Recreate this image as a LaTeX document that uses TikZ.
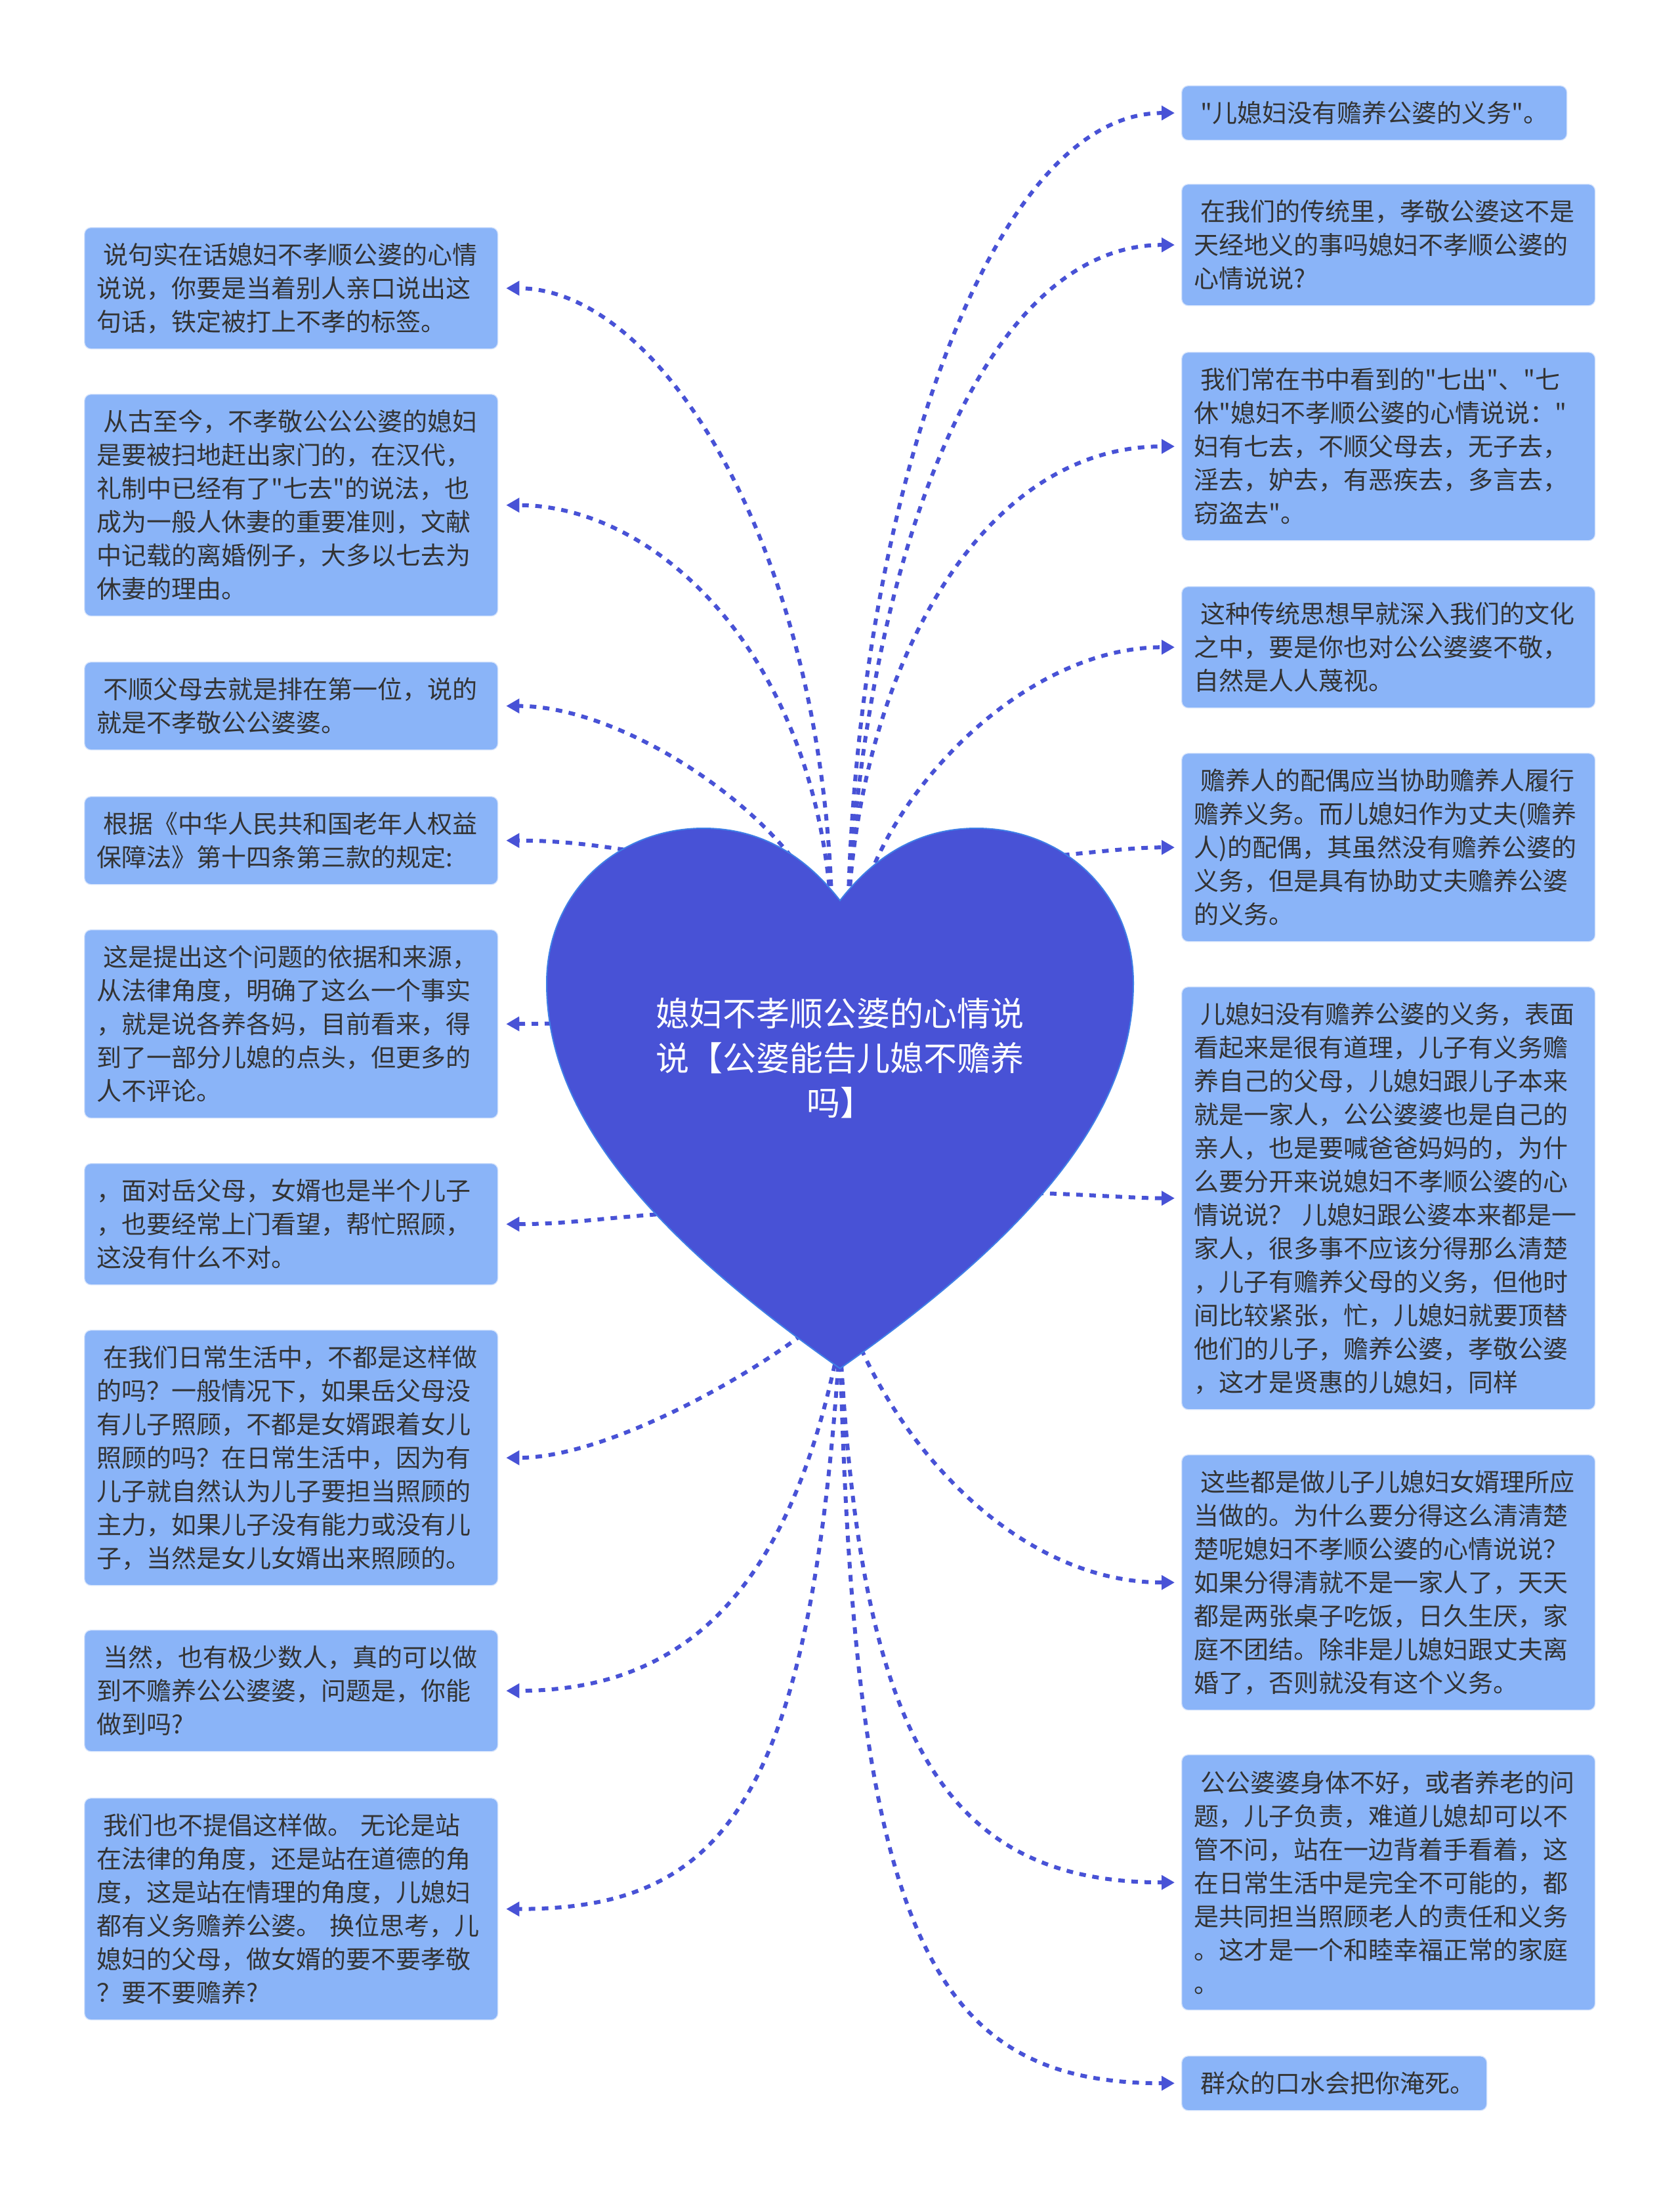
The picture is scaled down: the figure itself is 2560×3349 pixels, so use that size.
\documentclass[tikz,border=0pt]{standalone}
\usepackage{fontspec}
\setmainfont{Noto Sans CJK SC}[Ligatures=TeXOff]
\usetikzlibrary{arrows.meta,calc}
\definecolor{heartblue}{HTML}{4852D6}
\definecolor{heartedge}{HTML}{3F7FE6}
\definecolor{boxblue}{HTML}{8AB4F8}
\definecolor{boxedge}{HTML}{D6E4FC}
\definecolor{txtgray}{HTML}{333333}
\newcommand{\lsp}{\hspace*{0.25em}}
\begin{document}
\begin{tikzpicture}[x=0.3pt,y=-0.3pt,
  leaf/.style={draw=boxedge, line width=0.4pt, fill=boxblue, rounded corners=3pt,
    text=txtgray, align=left, anchor=north west, inner xsep=5.7pt, inner ysep=0pt,
    font=\fontsize{11.4pt}{15.3pt}\selectfont},
  widebox/.style={leaf, text width=177.6pt},
  nlines/.style={minimum height=15.3pt*#1+9.6pt},
  conn/.style={draw=heartblue, line width=1.8pt, dash pattern=on 3pt off 3pt,
    -{Triangle[length=6pt,width=6.4pt]}},
  hearttext/.style={text=white, align=center, font=\fontsize{15.3pt}{20.4pt}\selectfont}
]
\useasboundingbox (0,0) rectangle (2560,3349);
\fill[white] (0,0) rectangle (2560,3349);

% ---------- left boxes ----------
\node[widebox, nlines=3] (L1) at (128,346) {\lsp 说句实在话媳妇不孝顺公婆的心情\\说说，你要是当着别人亲口说出这\\句话，铁定被打上不孝的标签。};
\node[widebox, nlines=6] (L2) at (128,600) {\lsp 从古至今，不孝敬公公公婆的媳妇\\是要被扫地赶出家门的，在汉代，\\礼制中已经有了"七去"的说法，也\\成为一般人休妻的重要准则，文献\\中记载的离婚例子，大多以七去为\\休妻的理由。};
\node[widebox, nlines=2] (L3) at (128,1008) {\lsp 不顺父母去就是排在第一位，说的\\就是不孝敬公公婆婆。};
\node[widebox, nlines=2] (L4) at (128,1213) {\lsp 根据《中华人民共和国老年人权益\\保障法》第十四条第三款的规定:};
\node[widebox, nlines=5] (L5) at (128,1416) {\lsp 这是提出这个问题的依据和来源，\\从法律角度，明确了这么一个事实\\，就是说各养各妈，目前看来，得\\到了一部分儿媳的点头，但更多的\\人不评论。};
\node[widebox, nlines=3] (L6) at (128,1772) {，面对岳父母，女婿也是半个儿子\\，也要经常上门看望，帮忙照顾，\\这没有什么不对。};
\node[widebox, nlines=7] (L7) at (128,2026) {\lsp 在我们日常生活中，不都是这样做\\的吗？一般情况下，如果岳父母没\\有儿子照顾，不都是女婿跟着女儿\\照顾的吗？在日常生活中，因为有\\儿子就自然认为儿子要担当照顾的\\主力，如果儿子没有能力或没有儿\\子，当然是女儿女婿出来照顾的。};
\node[widebox, nlines=3] (L8) at (128,2483) {\lsp 当然，也有极少数人，真的可以做\\到不赡养公公婆婆，问题是，你能\\做到吗?};
\node[widebox, nlines=6] (L9) at (128,2739) {\lsp 我们也不提倡这样做。 无论是站\\在法律的角度，还是站在道德的角\\度，这是站在情理的角度，儿媳妇\\都有义务赡养公婆。 换位思考，儿\\媳妇的父母，做女婿的要不要孝敬\\？要不要赡养?};

% ---------- right boxes ----------
\node[leaf, text width=164.7pt, nlines=1] (R1) at (1800,130) {\lsp "儿媳妇没有赡养公婆的义务"。};
\node[widebox, nlines=3] (R2) at (1800,280) {\lsp 在我们的传统里，孝敬公婆这不是\\天经地义的事吗媳妇不孝顺公婆的\\心情说说?};
\node[widebox, nlines=5] (R3) at (1800,536) {\lsp 我们常在书中看到的"七出"、"七\\休"媳妇不孝顺公婆的心情说说："\\妇有七去，不顺父母去，无子去，\\淫去，妒去，有恶疾去，多言去，\\窃盗去"。};
\node[widebox, nlines=3] (R4) at (1800,893) {\lsp 这种传统思想早就深入我们的文化\\之中，要是你也对公公婆婆不敬，\\自然是人人蔑视。};
\node[widebox, nlines=5] (R5) at (1800,1147) {\lsp 赡养人的配偶应当协助赡养人履行\\赡养义务。而儿媳妇作为丈夫(赡养\\人)的配偶，其虽然没有赡养公婆的\\义务，但是具有协助丈夫赡养公婆\\的义务。};
\node[widebox, nlines=12] (R6) at (1800,1503) {\lsp 儿媳妇没有赡养公婆的义务，表面\\看起来是很有道理，儿子有义务赡\\养自己的父母，儿媳妇跟儿子本来\\就是一家人，公公婆婆也是自己的\\亲人，也是要喊爸爸妈妈的，为什\\么要分开来说媳妇不孝顺公婆的心\\情说说？ 儿媳妇跟公婆本来都是一\\家人，很多事不应该分得那么清楚\\，儿子有赡养父母的义务，但他时\\间比较紧张，忙，儿媳妇就要顶替\\他们的儿子，赡养公婆，孝敬公婆\\，这才是贤惠的儿媳妇，同样};
\node[widebox, nlines=7] (R7) at (1800,2216) {\lsp 这些都是做儿子儿媳妇女婿理所应\\当做的。为什么要分得这么清清楚\\楚呢媳妇不孝顺公婆的心情说说？\\如果分得清就不是一家人了，天天\\都是两张桌子吃饭，日久生厌，家\\庭不团结。除非是儿媳妇跟丈夫离\\婚了，否则就没有这个义务。};
\node[widebox, nlines=7] (R8) at (1800,2673) {\lsp 公公婆婆身体不好，或者养老的问\\题，儿子负责，难道儿媳却可以不\\管不问，站在一边背着手看着，这\\在日常生活中是完全不可能的，都\\是共同担当照顾老人的责任和义务\\。这才是一个和睦幸福正常的家庭\\。};
\node[leaf, text width=128.1pt, nlines=1] (R9) at (1800,3132) {\lsp 群众的口水会把你淹死。};

% ---------- connector end points ----------
\foreach \n in {L1,L2,L3,L4,L5,L6,L7,L8,L9}{\coordinate (e\n) at ($(\n.east)+(12,0)$);}
\foreach \n in {R1,R2,R3,R4,R5,R6,R7,R8,R9}{\coordinate (e\n) at ($(\n.west)+(-10,0)$);}

% ---------- connector start points (hidden under the heart) ----------
\coordinate (sTL) at (1268,1410);
\coordinate (sTL3) at (1262,1410);
\coordinate (sTR) at (1292,1410);
\coordinate (sTR4) at (1305,1410);
\coordinate (sB) at (1280,2040);
\coordinate (sBL7) at (1280,1980);
\coordinate (sBR7) at (1290,2000);
\coordinate (sL4) at (1050,1310);
\coordinate (sL5) at (900,1559);
\coordinate (sL6) at (1100,1845);
\coordinate (sR5) at (1540,1310);
\coordinate (sR6) at (1480,1815);

% ---------- connectors ----------
\draw[conn] (sTL) .. controls (1262,850) and ($(eL1)+(240,0)$) .. (eL1);
\draw[conn] (sTL) .. controls (1250,1000) and ($(eL2)+(230,0)$) .. (eL2);
\draw[conn] (sTL3) .. controls (1225,1260) and ($(eL3)+(190,0)$) .. (eL3);
\draw[conn] (sL4) .. controls (950,1295) and ($(eL4)+(110,0)$) .. (eL4);
\draw[conn] (sL5) -- (eL5);
\draw[conn] (sL6) .. controls (950,1850) and ($(eL6)+(110,0)$) .. (eL6);
\draw[conn] (sBL7) .. controls (1240,2040) and ($(eL7)+(180,0)$) .. (eL7);
\draw[conn] (sB) .. controls (1210,2400) and ($(eL8)+(290,0)$) .. (eL8);
\draw[conn] (sB) .. controls (1235,2750) and ($(eL9)+(330,0)$) .. (eL9);

\draw[conn] (sTR) .. controls (1300,800) and ($(eR1)+(-290,0)$) .. (eR1);
\draw[conn] (sTR) .. controls (1312,900) and ($(eR2)+(-310,0)$) .. (eR2);
\draw[conn] (sTR) .. controls (1302,1050) and ($(eR3)+(-310,0)$) .. (eR3);
\draw[conn] (sTR4) .. controls (1330,1230) and ($(eR4)+(-240,0)$) .. (eR4);
\draw[conn] (sR5) .. controls (1660,1300) and ($(eR5)+(-70,0)$) .. (eR5);
\draw[conn] (sR6) .. controls (1640,1818) and ($(eR6)+(-70,0)$) .. (eR6);
\draw[conn] (sBR7) .. controls (1360,2200) and ($(eR7)+(-240,0)$) .. (eR7);
\draw[conn] (sB) .. controls (1310,2650) and ($(eR8)+(-350,0)$) .. (eR8);
\draw[conn] (sB) .. controls (1300,2950) and ($(eR9)+(-370,0)$) .. (eR9);

% ---------- heart ----------
\filldraw[fill=heartblue, draw=heartedge, line width=0.6pt]
  (1280,1372) .. controls (1220,1295) and (1150,1262) .. (1072,1262)
  .. controls (940,1262) and (833,1360) .. (833,1498)
  .. controls (833,1680) and (960,1860) .. (1280,2085)
  .. controls (1600,1860) and (1727,1680) .. (1727,1498)
  .. controls (1727,1360) and (1620,1262) .. (1488,1262)
  .. controls (1410,1262) and (1340,1295) .. (1280,1372) -- cycle;
\node[hearttext] (center) at (1280,1612) {媳妇不孝顺公婆的心情说\\说【公婆能告儿媳不赡养\\吗】};
\end{tikzpicture}
\end{document}
